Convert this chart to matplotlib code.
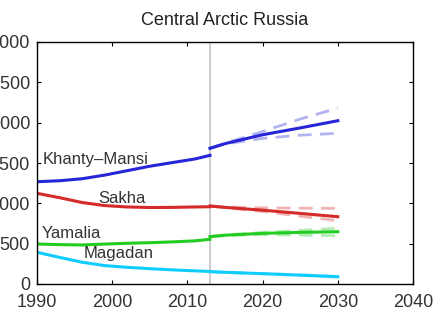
import matplotlib
matplotlib.use("Agg")
import matplotlib.pyplot as plt

plt.rcParams['font.family'] = ['Liberation Sans', 'DejaVu Sans']

hist_years = [1990, 1993, 1996, 1999, 2002, 2005, 2008, 2011, 2013]
khanty_hist = [1268, 1280, 1305, 1350, 1405, 1460, 1505, 1550, 1595]
sakha_hist = [1124, 1070, 1010, 972, 955, 948, 950, 955, 958]
yamalia_hist = [496, 488, 484, 495, 505, 512, 522, 535, 554]
magadan_hist = [393, 330, 270, 228, 207, 190, 175, 163, 155]

proj_years = [2013, 2015, 2020, 2025, 2030]
khanty_proj = [1682, 1740, 1850, 1935, 2024]
khanty_hi = [1682, 1745, 1890, 2045, 2180]
khanty_lo = [1682, 1735, 1805, 1845, 1868]
sakha_proj = [967, 950, 915, 875, 834]
sakha_hi = [967, 955, 945, 940, 938]
sakha_lo = [967, 945, 900, 840, 785]
yamalia_proj = [587, 605, 628, 640, 648]
yamalia_hi = [587, 610, 640, 665, 690]
yamalia_lo = [587, 600, 612, 606, 600]
magadan_proj = [153, 145, 128, 110, 90]
magadan_hi = [153, 146, 131, 114, 96]
magadan_lo = [153, 144, 125, 106, 84]

labels = ["Khanty\u2013Mansi", "Sakha", "Yamalia", "Magadan"]
xticks = [1990, 2000, 2010, 2020, 2030, 2040]
yticks = [0, 500, 1000, 1500, 2000, 2500, 3000]

colors = ['#2626d9', '#d42a2a', '#22cc22', '#11ccff']
txt = '#333333'

fig = plt.figure(figsize=(4.35, 3.09), dpi=100)
ax = fig.add_axes([37/435, 1-284/309, (413-37)/435, (284-42)/309])

ax.axvline(2013, color='#c8c8c8', lw=1.3, zorder=0)

hist = [khanty_hist, sakha_hist, yamalia_hist, magadan_hist]
proj = [khanty_proj, sakha_proj, yamalia_proj, magadan_proj]
his = [khanty_hi, sakha_hi, yamalia_hi, magadan_hi]
los = [khanty_lo, sakha_lo, yamalia_lo, magadan_lo]
for c, h, p, hi, lo in zip(colors, hist, proj, his, los):
    ax.plot(proj_years, hi, color=c, lw=2, alpha=0.35, dashes=(5, 3))
    ax.plot(proj_years, lo, color=c, lw=2, alpha=0.35, dashes=(5, 3))
    ax.plot(hist_years, h, color=c, lw=2.2)
    ax.plot(proj_years, p, color=c, lw=2.2)

fs = 12
ax.text(1990.8, 1545, labels[0], fontsize=fs, color=txt, va='center')
ax.text(1998.2, 1060, labels[1], fontsize=fs, color=txt, va='center')
ax.text(1990.6, 630, labels[2], fontsize=fs, color=txt, va='center')
ax.text(1996.2, 375, labels[3], fontsize=fs, color=txt, va='center')

ax.set_xlim(1990, 2040)
ax.set_ylim(0, 3000)
ax.set_xticks(xticks)
ax.set_yticks(yticks)
ax.tick_params(direction='in', top=True, right=True, labelsize=13, labelcolor=txt,
               length=3, width=0.8)
ax.tick_params(axis='x', pad=7)
ax.tick_params(axis='y', pad=5)
for s in ax.spines.values():
    s.set_linewidth(1.0)
ax.set_title("Central Arctic Russia", fontsize=13, color='#222222', pad=12)

fig.savefig("out.png", dpi=100)
